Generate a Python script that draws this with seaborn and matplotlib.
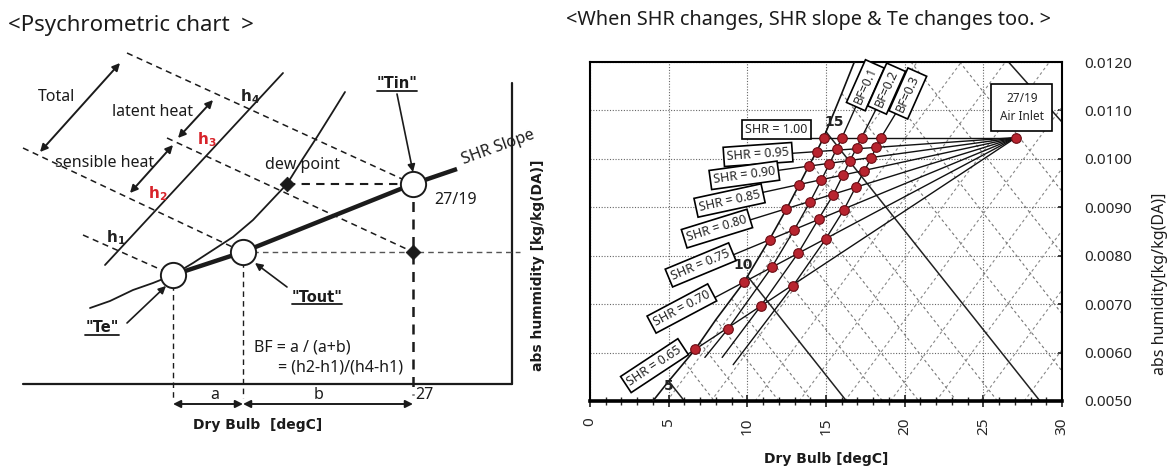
import math
import numpy as np
import pandas as pd
import matplotlib
matplotlib.use("Agg")
import matplotlib.pyplot as plt
import seaborn as sns

sns.set_theme(style="white")
plt.rcParams["font.family"] = ["Noto Sans", "DejaVu Sans"]
plt.rcParams["mathtext.fontset"] = "dejavusans"
BOLD = ["DejaVu Sans"]

W, H = 1174, 467

# ---------------- right chart : values ----------------
shr_levels = [1.00, 0.95, 0.90, 0.85, 0.80, 0.75, 0.70, 0.65]

# Te points (BF = 0, on the saturation curve)
te_x = [14.85, 14.40, 13.91, 13.29, 12.47, 11.42, 9.81, 6.70]
te_y = [0.01044, 0.01015, 0.00985, 0.00947, 0.00897, 0.00833, 0.00746, 0.00607]
# BF = 0.1
bf1_x = [16.02, 15.67, 15.22, 14.70, 13.98, 12.99, 11.55, 8.77]
bf1_y = [0.01044, 0.01020, 0.00990, 0.00956, 0.00911, 0.00854, 0.00776, 0.00649]
# BF = 0.2
bf2_x = [17.26, 16.94, 16.51, 16.07, 15.45, 14.53, 13.24, 10.85]
bf2_y = [0.01044, 0.01022, 0.00996, 0.00966, 0.00925, 0.00876, 0.00806, 0.00696]
# BF = 0.3
bf3_x = [18.50, 18.20, 17.88, 17.43, 16.89, 16.14, 14.97, 12.91]
bf3_y = [0.01044, 0.01025, 0.01002, 0.00975, 0.00942, 0.00895, 0.00834, 0.00738]

inlet_x, inlet_y = 27.08, 0.01044
inlet_label_x, inlet_label_y = 27.44, 0.01106

shr_lab_x = [11.85, 10.68, 9.81, 8.87, 8.07, 7.03, 5.84, 4.10]
shr_lab_y = [0.01061, 0.01009, 0.00966, 0.00914, 0.00856, 0.00781, 0.00691, 0.00573]

bf_names = ["BF=0.1", "BF=0.2", "BF=0.3"]
bf_bottom_x = [7.3, 8.4, 9.1]
bf_bottom_y = [0.0059, 0.0059, 0.00575]
bf_lab_x = [17.5, 18.85, 20.2]
bf_lab_y = [0.01152, 0.01145, 0.01135]

# saturation curve
sat_x = [4.0, 5.0, 6.7, 8.0, 9.8, 11.4, 12.5, 13.3, 13.9, 14.4, 14.85, 16.0, 16.8]
sat_y = [0.0050, 0.00541, 0.00607, 0.00668, 0.00746, 0.00833, 0.00897, 0.00947,
         0.00985, 0.01015, 0.01044, 0.01135, 0.0120]
sat_labels = ["5", "10", "15"]
sat_lab_x = [5.0, 9.75, 15.55]
sat_lab_y = [0.00530, 0.00781, 0.01077]

# wet bulb lines, solid (5, 10, 15, 20)
wb_solid_x0 = [5.0, 10.0, 15.0, 26.6]
wb_solid_y0 = [0.00541, 0.00758, 0.01056, 0.0120]
wb_solid_x1 = [6.0, 16.3, 28.6, 30.0]
wb_solid_y1 = [0.0050, 0.0050, 0.0050, 0.01076]

# wet bulb lines, dashed (every 1 degC)
wb_dash_x0 = [6.0, 7.0, 8.0, 9.0, 11.0, 12.0, 13.0, 14.0, 16.0, 17.5, 20.4, 23.5]
wb_dash_y0 = [0.00580, 0.00620, 0.00668, 0.00711, 0.00811, 0.00868, 0.00928, 0.00992,
              0.01135, 0.0120, 0.0120, 0.0120]
wb_dash_x1 = [7.9, 9.9, 12.0, 14.1, 18.6, 20.9, 23.3, 25.9, 30.0, 30.0, 30.0, 30.0]
wb_dash_y1 = [0.0050, 0.0050, 0.0050, 0.0050, 0.0050, 0.0050, 0.0050, 0.0050,
              0.00562, 0.0068, 0.00805, 0.00933]

# rising dashed lines of the chart background
up_x0 = [4.9, 7.7, 10.5, 13.3, 16.2, 19.1, 22.0, 24.8, 27.6]
up_x1 = [20.8, 23.6, 26.4, 29.2, 30.0, 30.0, 30.0, 30.0, 30.0]
up_y1 = [0.0120, 0.0120, 0.0120, 0.0120, 0.01107, 0.00980, 0.00852, 0.00729, 0.00606]

# ---------------- left sketch : schematic units (axis line at y = 0) ----------------
state_names = ['"Te"', '"Tout"', '"Tin"']
state_x = [173, 243, 413]
state_y = [109, 132, 200]
dew_x, dew_y = 287, 200
mix_x, mix_y = 413, 132
shr_end_x, shr_end_y = 457, 215

sketch_sat_x = [90, 110, 133, 153, 173, 193, 213, 233, 253, 270, 287, 302, 317, 332, 345]
sketch_sat_y = [76, 83, 94, 101, 109, 121, 134, 147, 164, 182, 200, 224, 247, 271, 292]

hline_x = [105, 283]
hline_y = [119, 311]

enth_x0 = [127, 167, 23, 83]
enth_y0 = [331, 246, 236, 149]
enth_x1 = [413, 413, 243, 173]
enth_y1 = [200, 132, 132, 109]
h_names = ["$\\mathbf{h_4}$", "$\\mathbf{h_3}$", "$\\mathbf{h_2}$", "$\\mathbf{h_1}$"]
h_colors = ["#222222", "#d8232a", "#d8232a", "#222222"]
h_lab_x = [240, 197, 148, 106]
h_lab_y = [287, 244, 190, 146]

fig = plt.figure(figsize=(W / 100, H / 100), dpi=100)

# ============ left panel ============
ax_l = fig.add_axes([0, 0, 560 / W, 1])
ax_l.set_xlim(0, 560)
ax_l.set_ylim(-83, 384)
ax_l.axis("off")
ink = "#1b1b1b"

ax_l.plot([23, 512], [0, 0], color=ink, lw=1.6)
ax_l.plot([512, 512], [0, 301], color=ink, lw=1.6)

# enthalpy lines
for x0, y0, x1, y1 in zip(enth_x0, enth_y0, enth_x1, enth_y1):
    ax_l.plot([x0, x1], [y0, y1], color=ink, lw=1.1, dashes=(4, 3))
ax_l.plot(hline_x, hline_y, color=ink, lw=1.3)
ax_l.plot(sketch_sat_x, sketch_sat_y, color=ink, lw=1.3)

# SHR slope
ax_l.plot(state_x + [shr_end_x], state_y + [shr_end_y], color=ink, lw=3.2, solid_capstyle="butt")

# projections
ax_l.plot([state_x[0]] * 2, [state_y[0], -14], color=ink, lw=1.0, dashes=(4, 3))
ax_l.plot([state_x[1]] * 2, [state_y[1], -14], color=ink, lw=1.0, dashes=(4, 3))
ax_l.plot([state_x[2]] * 2, [state_y[2], -11], color=ink, lw=1.8, dashes=(4, 3))
ax_l.plot([dew_x, state_x[2]], [dew_y, dew_y], color=ink, lw=1.5, dashes=(4, 3))
ax_l.plot([state_x[1], 520], [state_y[1], state_y[1]], color="#555555", lw=1.0, dashes=(4, 3))

sns.scatterplot(x=state_x, y=state_y, ax=ax_l, s=330, color="white", edgecolor=ink,
                linewidth=1.4, zorder=5, legend=False)
sns.scatterplot(x=[dew_x, mix_x], y=[dew_y, mix_y], ax=ax_l, marker="D", s=55,
                color=ink, edgecolor=ink, zorder=5, legend=False)

dbl = dict(arrowstyle="<|-|>", color=ink, lw=1.4, mutation_scale=11, shrinkA=0, shrinkB=0)
one = dict(arrowstyle="-|>", color=ink, lw=1.2, mutation_scale=11, shrinkA=0, shrinkB=0)
ax_l.annotate("", xy=(40, 232), xytext=(120, 321), arrowprops=dbl)
ax_l.annotate("", xy=(178, 246), xytext=(213, 284), arrowprops=dbl)
ax_l.annotate("", xy=(130, 191), xytext=(173, 239), arrowprops=dbl)
ax_l.annotate("", xy=(state_x[0], -20), xytext=(state_x[1], -20), arrowprops=dbl)
ax_l.annotate("", xy=(state_x[1], -20), xytext=(state_x[2], -20), arrowprops=dbl)
ax_l.annotate("", xy=(413, 212), xytext=(397, 290), arrowprops=one)
ax_l.annotate("", xy=(255, 121), xytext=(287, 97), arrowprops=one)
ax_l.annotate("", xy=(166, 98), xytext=(127, 61), arrowprops=one)

fs = 11.5
ax_l.text(8, 359, "<Psychrometric chart  >", fontsize=16, ha="left", va="center", color=ink)
ax_l.text(57, 287, "Total", fontsize=fs, ha="center", va="center", color=ink)
ax_l.text(152, 272, "latent heat", fontsize=fs, ha="center", va="center", color=ink)
ax_l.text(105, 221, "sensible heat", fontsize=fs, ha="center", va="center", color=ink)
ax_l.text(302, 219, "dew point", fontsize=fs, ha="center", va="center", color=ink)
for name, hx, hy, hc in zip(h_names, h_lab_x, h_lab_y, h_colors):
    ax_l.text(hx, hy, name, fontsize=11, ha="left", va="center", color=hc)

under = []
under.append(ax_l.text(397, 300, state_names[2], fontsize=10.5, fontweight="bold",
                       family=BOLD, ha="center", va="center", color=ink))
under.append(ax_l.text(317, 87, state_names[1], fontsize=10.5, fontweight="bold",
                       family=BOLD, ha="center", va="center", color=ink))
under.append(ax_l.text(102, 56, state_names[0], fontsize=10.5, fontweight="bold",
                       family=BOLD, ha="center", va="center", color=ink))

ax_l.text(456, 184, "27/19", fontsize=fs, ha="center", va="center", color=ink)
ax_l.text(254, 37, "BF = a / (a+b)", fontsize=fs, ha="left", va="center", color=ink)
ax_l.text(278, 16, "= (h2-h1)/(h4-h1)", fontsize=fs, ha="left", va="center", color=ink)
ax_l.text(415, -11, "27", fontsize=fs, ha="left", va="center", color=ink)
ax_l.text(215, -11, "a", fontsize=fs, ha="center", va="center", color=ink)
ax_l.text(319, -11, "b", fontsize=fs, ha="center", va="center", color=ink)
ax_l.text(258, -41, "Dry Bulb  [degC]", fontsize=10, fontweight="bold", family=BOLD,
          ha="center", va="center", color=ink)
ax_l.text(498, 237, "SHR Slope", fontsize=fs, rotation=20, ha="center", va="center", color=ink)
ax_l.text(538, 119, "abs hummidity [kg/kg(DA)]", fontsize=10, fontweight="bold",
          family=BOLD, rotation=90, ha="center", va="center", color=ink)

# ============ right panel ============
ax_r = fig.add_axes([590 / W, 1 - 401 / H, 472 / W, 339 / H])
ax_r.set_xlim(0, 30)
ax_r.set_ylim(0.005, 0.012)
ax_r.set_xticks(np.arange(0, 31, 5))
ax_r.set_xticks(np.arange(0, 31, 1), minor=True)
ax_r.set_yticks(np.arange(0.005, 0.01201, 0.001))
ax_r.set_yticklabels([f"{v:.4f}" for v in np.arange(0.005, 0.01201, 0.001)])
ax_r.yaxis.tick_right()
ax_r.tick_params(axis="y", which="major", direction="in", length=3, pad=16, labelsize=11,
                 right=True, left=False)
ax_r.tick_params(axis="x", which="major", direction="inout", length=8, labelsize=11,
                 labelrotation=90, bottom=True, pad=8)
ax_r.tick_params(axis="x", which="minor", direction="inout", length=6, bottom=True)
ax_r.grid(True, which="major", color="#666666", lw=0.8, ls=(0, (1, 1.5)), zorder=0)
for sp in ax_r.spines.values():
    sp.set_color("black")
    sp.set_linewidth(1.5)
ax_r.spines["bottom"].set_linewidth(2.6)

for x0, x1, y1 in zip(up_x0, up_x1, up_y1):
    ax_r.plot([x0, x1], [0.005, y1], color="#888888", lw=0.8, dashes=(2.5, 2.5), zorder=1)
for x0, y0, x1, y1 in zip(wb_dash_x0, wb_dash_y0, wb_dash_x1, wb_dash_y1):
    ax_r.plot([x0, x1], [y0, y1], color="#777777", lw=0.8, dashes=(2.5, 2.5), zorder=1)
for x0, y0, x1, y1 in zip(wb_solid_x0, wb_solid_y0, wb_solid_x1, wb_solid_y1):
    ax_r.plot([x0, x1], [y0, y1], color="#222222", lw=1.1, zorder=2)
ax_r.plot(sat_x, sat_y, color="#111111", lw=1.2, zorder=3)
for t, x, y in zip(sat_labels, sat_lab_x, sat_lab_y):
    ax_r.text(x, y, t, fontsize=10, fontweight="bold", family=BOLD, ha="center",
              va="center", color="#222222", zorder=3)

# SHR lines from the inlet to the labels
def screen_angle(p0, p1):
    a = ax_r.transData.transform([p0, p1])
    return math.degrees(math.atan2(a[1][1] - a[0][1], a[1][0] - a[0][0]))

for i, s in enumerate(shr_levels):
    k = (inlet_y - te_y[i]) / (inlet_x - te_x[i])
    x_start = shr_lab_x[i] if i > 0 else 13.9
    y_start = te_y[i] + k * (x_start - te_x[i])
    ax_r.plot([x_start, inlet_x], [y_start, inlet_y], color="#111111", lw=1.0, zorder=3)
    ang = screen_angle((te_x[i], te_y[i]), (inlet_x, inlet_y))
    ax_r.text(shr_lab_x[i], shr_lab_y[i], f"SHR = {s:.2f}", fontsize=9, rotation=ang,
              rotation_mode="anchor", ha="center", va="center", zorder=6,
              bbox=dict(boxstyle="square,pad=0.25", fc="white", ec="black", lw=1.2))

# BF lines
bf_cols = [(bf1_x, bf1_y), (bf2_x, bf2_y), (bf3_x, bf3_y)]
for j, (cx, cy) in enumerate(bf_cols):
    xs = [bf_bottom_x[j]] + cx[::-1] + [bf_lab_x[j]]
    ys = [bf_bottom_y[j]] + cy[::-1] + [bf_lab_y[j]]
    ax_r.plot(xs, ys, color="#111111", lw=1.0, zorder=3)
    ax_r.text(bf_lab_x[j], bf_lab_y[j], bf_names[j], fontsize=9, rotation=66,
              ha="center", va="center", zorder=6, clip_on=False,
              bbox=dict(boxstyle="square,pad=0.3", fc="white", ec="black", lw=1.2))

rows = []
for bf, (cx, cy) in zip(["0", "0.1", "0.2", "0.3"], [(te_x, te_y)] + bf_cols):
    for s, x, y in zip(shr_levels, cx, cy):
        rows.append({"bf": bf, "shr": s, "x": x, "y": y})
rows.append({"bf": "inlet", "shr": np.nan, "x": inlet_x, "y": inlet_y})
pts = pd.DataFrame(rows)
sns.scatterplot(data=pts, x="x", y="y", ax=ax_r, color="#b8242f", edgecolor="#6a0d14",
                s=48, linewidth=0.8, zorder=5, legend=False)

ax_r.text(inlet_label_x, inlet_label_y, "27/19\nAir Inlet", fontsize=8.5, ha="center",
          va="center", zorder=6, linespacing=1.5,
          bbox=dict(boxstyle="square,pad=0.7", fc="white", ec="black", lw=1.2))

ax_r.set_xlabel("")
ax_r.set_ylabel("")
fig.text(826 / W, 1 - 459 / H, "Dry Bulb [degC]", fontsize=10, fontweight="bold",
         family=BOLD, ha="center", va="center", color=ink)
fig.text(1160 / W, 1 - 284 / H, "abs humidity[kg/kg(DA)]", fontsize=11.5, rotation=90,
         ha="center", va="center", color=ink)
fig.text(566 / W, 1 - 20 / H, "<When SHR changes, SHR slope & Te changes too. >",
         fontsize=14.3, ha="left", va="center", color=ink)

# underline the state labels
fig.canvas.draw()
inv = ax_l.transData.inverted()
for t in under:
    bb = t.get_window_extent()
    (x0, y0), (x1, _) = inv.transform([[bb.x0, bb.y0], [bb.x1, bb.y1]])
    ax_l.plot([x0, x1], [y0 + 1, y0 + 1], color=ink, lw=1.3)

fig.savefig("out.png", dpi=100)
